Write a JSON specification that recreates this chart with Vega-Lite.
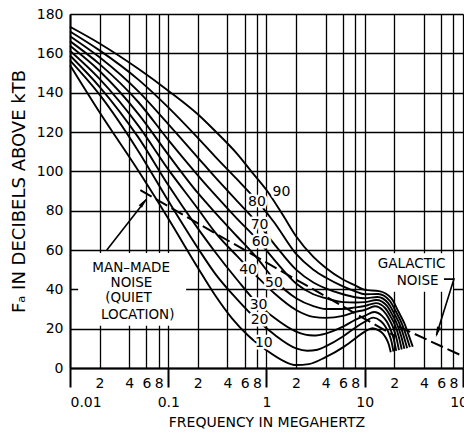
{
  "$schema": "https://vega.github.io/schema/vega-lite/v6.json",
  "width": 393,
  "height": 354,
  "autosize": {"type": "none"},
  "padding": {"left": 70, "top": 14, "right": 1, "bottom": 65},
  "background": "white",
  "config": {
    "view": {"stroke": null},
    "font": "DejaVu Sans",
    "axis": {
      "gridColor": "black", "gridWidth": 1.3, "gridOpacity": 1,
      "domainColor": "black", "domainWidth": 2,
      "labelColor": "black", "labelFont": "DejaVu Sans", "labelFontSize": 14,
      "titleFont": "DejaVu Sans", "titleFontWeight": "normal", "titleColor": "black",
      "tickColor": "black", "tickWidth": 2
    }
  },
  "datasets": {
    "curves": [
      {"s":"10","f":0.01,"F":154},{"s":"10","f":0.02,"F":130},{"s":"10","f":0.05,"F":100},{"s":"10","f":0.1,"F":76},{"s":"10","f":0.2,"F":51},{"s":"10","f":0.3,"F":37},{"s":"10","f":0.45,"F":25},{"s":"10","f":0.65,"F":16.5},{"s":"10","f":1,"F":9},{"s":"10","f":1.5,"F":3.5},{"s":"10","f":2,"F":1.5},{"s":"10","f":2.7,"F":2},{"s":"10","f":4,"F":5.5},{"s":"10","f":6,"F":10.5},{"s":"10","f":8,"F":15},{"s":"10","f":10,"F":18.5},{"s":"10","f":12,"F":20.2},{"s":"10","f":14,"F":19},{"s":"10","f":15.3,"F":17.5},{"s":"10","f":16.5,"F":15.1},{"s":"10","f":17.5,"F":12.2},{"s":"10","f":18.4,"F":8},
      {"s":"20","f":0.01,"F":156.4},{"s":"20","f":0.02,"F":139},{"s":"20","f":0.05,"F":110},{"s":"20","f":0.1,"F":85},{"s":"20","f":0.2,"F":61},{"s":"20","f":0.3,"F":48},{"s":"20","f":0.5,"F":35},{"s":"20","f":0.8,"F":24.5},{"s":"20","f":1.2,"F":17},{"s":"20","f":2,"F":10},{"s":"20","f":2.6,"F":8.8},{"s":"20","f":3.3,"F":9.3},{"s":"20","f":4,"F":11},{"s":"20","f":6,"F":16},{"s":"20","f":8,"F":20.5},{"s":"20","f":10,"F":23.5},{"s":"20","f":12.2,"F":25.6},{"s":"20","f":14.5,"F":23.9},{"s":"20","f":16,"F":21.5},{"s":"20","f":17.4,"F":18.2},{"s":"20","f":18.6,"F":14},{"s":"20","f":19.6,"F":8.4},
      {"s":"30","f":0.01,"F":158.9},{"s":"30","f":0.02,"F":143},{"s":"30","f":0.05,"F":117},{"s":"30","f":0.1,"F":93},{"s":"30","f":0.2,"F":71},{"s":"30","f":0.3,"F":59},{"s":"30","f":0.5,"F":45},{"s":"30","f":0.8,"F":33},{"s":"30","f":1.2,"F":25.5},{"s":"30","f":2,"F":18.5},{"s":"30","f":3,"F":16.5},{"s":"30","f":4,"F":17.5},{"s":"30","f":6,"F":21},{"s":"30","f":8,"F":24.5},{"s":"30","f":10,"F":26.5},{"s":"30","f":12.5,"F":28.5},{"s":"30","f":15,"F":26.5},{"s":"30","f":16.8,"F":23.5},{"s":"30","f":18.3,"F":19.6},{"s":"30","f":19.7,"F":14.9},{"s":"30","f":20.9,"F":8.7},
      {"s":"40","f":0.01,"F":161.3},{"s":"40","f":0.02,"F":147},{"s":"40","f":0.05,"F":123},{"s":"40","f":0.1,"F":101},{"s":"40","f":0.2,"F":81},{"s":"40","f":0.3,"F":69},{"s":"40","f":0.5,"F":57},{"s":"40","f":0.8,"F":46.5},{"s":"40","f":1.2,"F":38},{"s":"40","f":2,"F":29.5},{"s":"40","f":3,"F":26},{"s":"40","f":4,"F":25.5},{"s":"40","f":6,"F":26.5},{"s":"40","f":8,"F":28.5},{"s":"40","f":10,"F":29.5},{"s":"40","f":12.7,"F":31.4},{"s":"40","f":15.5,"F":29},{"s":"40","f":17.5,"F":25.3},{"s":"40","f":19.3,"F":21},{"s":"40","f":20.9,"F":15.7},{"s":"40","f":22.3,"F":9.1},
      {"s":"50","f":0.01,"F":163.8},{"s":"50","f":0.02,"F":151},{"s":"50","f":0.05,"F":129},{"s":"50","f":0.1,"F":108.5},{"s":"50","f":0.2,"F":89},{"s":"50","f":0.3,"F":79},{"s":"50","f":0.5,"F":67},{"s":"50","f":0.8,"F":56},{"s":"50","f":1.2,"F":45},{"s":"50","f":2,"F":35.5},{"s":"50","f":3,"F":31.5},{"s":"50","f":4,"F":30},{"s":"50","f":6,"F":30},{"s":"50","f":8,"F":30.8},{"s":"50","f":10,"F":31.5},{"s":"50","f":13,"F":33},{"s":"50","f":16.1,"F":30.5},{"s":"50","f":18.3,"F":26.2},{"s":"50","f":20.4,"F":21.6},{"s":"50","f":22.2,"F":15.9},{"s":"50","f":23.8,"F":9.4},
      {"s":"60","f":0.01,"F":166.2},{"s":"60","f":0.02,"F":154.5},{"s":"60","f":0.05,"F":135},{"s":"60","f":0.1,"F":116},{"s":"60","f":0.2,"F":98},{"s":"60","f":0.3,"F":88},{"s":"60","f":0.5,"F":76},{"s":"60","f":0.8,"F":65.5},{"s":"60","f":1.2,"F":55},{"s":"60","f":2,"F":43},{"s":"60","f":3,"F":37.5},{"s":"60","f":4,"F":35.5},{"s":"60","f":6,"F":33.5},{"s":"60","f":8,"F":33.3},{"s":"60","f":10,"F":33.5},{"s":"60","f":13.2,"F":34.6},{"s":"60","f":16.7,"F":31.8},{"s":"60","f":19.1,"F":27},{"s":"60","f":21.4,"F":22.1},{"s":"60","f":23.5,"F":16.2},{"s":"60","f":25.3,"F":9.8},
      {"s":"70","f":0.01,"F":168.7},{"s":"70","f":0.02,"F":158},{"s":"70","f":0.05,"F":140.5},{"s":"70","f":0.1,"F":124},{"s":"70","f":0.2,"F":107},{"s":"70","f":0.3,"F":97},{"s":"70","f":0.5,"F":85},{"s":"70","f":0.8,"F":74},{"s":"70","f":1.2,"F":63},{"s":"70","f":2,"F":50},{"s":"70","f":3,"F":43.5},{"s":"70","f":4,"F":40.5},{"s":"70","f":6,"F":37.5},{"s":"70","f":8,"F":36},{"s":"70","f":10,"F":35.5},{"s":"70","f":13.5,"F":36.1},{"s":"70","f":17.3,"F":33},{"s":"70","f":20,"F":27.6},{"s":"70","f":22.6,"F":22.4},{"s":"70","f":24.9,"F":16.3},{"s":"70","f":27,"F":10.1},
      {"s":"80","f":0.01,"F":171.1},{"s":"80","f":0.02,"F":161.5},{"s":"80","f":0.05,"F":146.5},{"s":"80","f":0.1,"F":132.5},{"s":"80","f":0.2,"F":117},{"s":"80","f":0.3,"F":107.5},{"s":"80","f":0.5,"F":96},{"s":"80","f":0.8,"F":85},{"s":"80","f":1.2,"F":74},{"s":"80","f":2,"F":58},{"s":"80","f":3,"F":50},{"s":"80","f":4,"F":46},{"s":"80","f":6,"F":41.5},{"s":"80","f":8,"F":39},{"s":"80","f":10,"F":37.5},{"s":"80","f":13.7,"F":37.6},{"s":"80","f":17.9,"F":34.2},{"s":"80","f":21,"F":28.2},{"s":"80","f":23.8,"F":22.7},{"s":"80","f":26.5,"F":16.3},{"s":"80","f":28.8,"F":10.5},
      {"s":"90","f":0.01,"F":173.5},{"s":"90","f":0.02,"F":165},{"s":"90","f":0.05,"F":152},{"s":"90","f":0.1,"F":141},{"s":"90","f":0.2,"F":129},{"s":"90","f":0.3,"F":120.5},{"s":"90","f":0.5,"F":109},{"s":"90","f":0.7,"F":100},{"s":"90","f":1,"F":90.5},{"s":"90","f":1.5,"F":77},{"s":"90","f":2,"F":67},{"s":"90","f":3,"F":56.5},{"s":"90","f":4,"F":51},{"s":"90","f":6,"F":45},{"s":"90","f":8,"F":42},{"s":"90","f":10,"F":39.7},{"s":"90","f":14,"F":39.1},{"s":"90","f":18.6,"F":35.5},{"s":"90","f":22,"F":28.7},{"s":"90","f":25.2,"F":22.9},{"s":"90","f":28.2,"F":16.3},{"s":"90","f":30.8,"F":10.8}
    ],
    "noise": [
      {"s":"man-made","f":0.052,"F":90.4},{"s":"man-made","f":0.1,"F":82.2},{"s":"man-made","f":1,"F":53.6},{"s":"man-made","f":10,"F":25},{"s":"man-made","f":20,"F":16.4},
      {"s":"galactic","f":22,"F":21.1},{"s":"galactic","f":100,"F":6}
    ],
    "boxes": [
      {"f":0.0121,"f2":0.152,"F":21.5,"F2":58.5},
      {"f":10.5,"f2":79,"F":38.8,"F2":58.3}
    ],
    "arrows": [
      {"id":"m","o":1,"f":0.0237,"F":60},{"id":"m","o":2,"f":0.0595,"F":85.6},
      {"id":"g","o":1,"f":64,"F":45.2},{"id":"g","o":2,"f":80.9,"F":45.2},{"id":"g","o":3,"f":53.7,"F":16.8}
    ],
    "heads": [
      {"f":0.0561,"F":84.2,"a":38},
      {"f":54.9,"F":18.2,"a":197.5}
    ],
    "labels": [
      {"t":"90","f":1.42,"F":89.6},{"t":"80","f":0.8,"F":84.5},{"t":"70","f":0.85,"F":72.7},{"t":"60","f":0.87,"F":64.2},{"t":"40","f":0.65,"F":49.8},{"t":"50","f":1.19,"F":43.1},{"t":"30","f":0.83,"F":32},{"t":"20","f":0.85,"F":24.4},{"t":"10","f":0.94,"F":12.6}
    ],
    "notes": [
      {"t":"MAN–MADE","f":0.0419,"F":50.8},{"t":"NOISE","f":0.0422,"F":43.2},{"t":"(QUIET","f":0.0394,"F":35.4},{"t":"LOCATION)","f":0.0489,"F":26.9},
      {"t":"GALACTIC","f":30,"F":52.9},{"t":"NOISE","f":34.5,"F":44.2}
    ]
  },
  "encoding": {
    "x": {
      "field": "f", "type": "quantitative",
      "scale": {"type": "log", "domain": [0.01, 100], "nice": false},
      "axis": {
        "values": [0.01,0.02,0.04,0.06,0.08,0.1,0.2,0.4,0.6,0.8,1,2,4,6,8,10,20,40,60,80,100],
        "grid": true,
        "labelExpr": "indexof([0.01,0.1,1,10,100], datum.value) >= 0 ? format(datum.value, '~g') : format(datum.value / pow(10, floor(log(datum.value)/LN10 + 1e-6)), '.0f')",
        "tickSize": {"condition": {"test": "indexof([0.01,0.1,1,10,100], datum.value) >= 0", "value": 19}, "value": 0},
        "labelPadding": 8,
        "labelAlign": {"condition": {"test": "datum.value == 0.01", "value": "left"}, "value": "center"},
        "labelBaseline": "top",
        "labelFlush": false, "labelOverlap": false, "labelBound": false,
        "title": "FREQUENCY IN MEGAHERTZ", "titleFontSize": 14, "titlePadding": 6
      }
    },
    "y": {
      "field": "F", "type": "quantitative",
      "scale": {"domain": [0, 180], "nice": false},
      "axis": {
        "values": [0,20,40,60,80,100,120,140,160,180],
        "grid": true, "ticks": false, "labelPadding": 7,
        "title": "Fₐ IN DECIBELS ABOVE kTB", "titleFontSize": 18, "titlePadding": 8
      }
    }
  },
  "layer": [
    {"data": {"name": "boxes"}, "mark": {"type": "rect", "fill": "white"}, "encoding": {"x2": {"field": "f2"}, "y2": {"field": "F2"}}},
    {"data": {"name": "noise"}, "mark": {"type": "line", "color": "black", "strokeWidth": 2, "strokeDash": [13, 5]}, "encoding": {"detail": {"field": "s"}}},
    {"data": {"name": "curves"}, "mark": {"type": "line", "color": "black", "strokeWidth": 1.9, "interpolate": "monotone"}, "encoding": {"detail": {"field": "s"}}},
    {"data": {"name": "arrows"}, "mark": {"type": "line", "color": "black", "strokeWidth": 1.6}, "encoding": {"detail": {"field": "id"}, "order": {"field": "o"}}},
    {"data": {"name": "heads"}, "mark": {"type": "point", "filled": true, "color": "black", "opacity": 1, "shape": "M0,-1L0.4,1L-0.4,1Z", "size": 110}, "encoding": {"angle": {"field": "a", "type": "quantitative", "scale": null}}},
    {"data": {"name": "labels"}, "mark": {"type": "text", "fontSize": 14, "fill": "white", "stroke": "white", "strokeWidth": 5, "strokeJoin": "round"}, "encoding": {"text": {"field": "t"}}},
    {"data": {"name": "labels"}, "mark": {"type": "text", "fontSize": 14, "fill": "black"}, "encoding": {"text": {"field": "t"}}},
    {"data": {"name": "notes"}, "mark": {"type": "text", "fontSize": 13.5, "fill": "black"}, "encoding": {"text": {"field": "t"}}}
  ]
}
